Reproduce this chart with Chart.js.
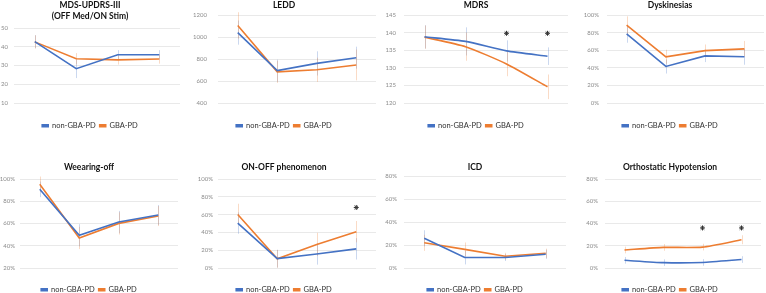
<!DOCTYPE html>
<html lang="en">
<head>
<meta charset="UTF-8">
<title>GBA-PD vs non-GBA-PD</title>
<script src="https://cdn.jsdelivr.net/npm/chart.js"></script>
<style>
    body { margin: 0; background: #fff; }
    #wrap { position: relative; width: 766px; height: 293px; overflow: hidden; background: #fff; }
    #wrap canvas { position: absolute; }
</style>
</head>
<body>
<div id="wrap"></div>
<script>
// data
const timepoints = ['T0', 'T1', 'T3', 'T5'];

const updrsNon = [42.7, 28.3, 35.7, 35.7];
const updrsGba = [42.6, 33.6, 33.0, 33.5];
const updrsNonErr = [3.5, 5, 2.5, 2.5];
const updrsGbaErr = [3.5, 3, 2.5, 2.5];

const leddNon = [1040, 694, 760, 812];
const leddGba = [1105, 683, 702, 746];
const leddNonErr = [110, 100, 110, 100];
const leddGbaErr = [120, 100, 110, 140];

const mdrsNon = [138.8, 137.5, 134.8, 133.3];
const mdrsGba = [138.7, 136.0, 131.1, 124.6];
const mdrsNonErr = [3.3, 4, 3, 2.5];
const mdrsGbaErr = [3.3, 4, 3.5, 3.5];
const mdrsStars = [null, null, 139.8, 139.8];

const dyskNon = [78.5, 41.5, 53.5, 52.5];
const dyskGba = [88.5, 52.5, 59.5, 61.5];
const dyskNonErr = [10, 8, 7, 9];
const dyskGbaErr = [10, 8, 7, 9];

const wearNon = [90.7, 49.4, 61.3, 67.6];
const wearGba = [95.2, 47.0, 60.1, 66.7];
const wearNonErr = [7, 10, 10, 9];
const wearGbaErr = [7, 10, 10, 9];

const onoffNon = [50.5, 10.5, 15.8, 21.5];
const onoffGba = [60.2, 10.3, 26.5, 40.8];
const onoffNonErr = [12, 10, 12, 12];
const onoffGbaErr = [12, 10, 13, 12];
const onoffStars = [null, null, null, 68];

const icdNon = [25.8, 9.1, 9.1, 11.9];
const icdGba = [21.9, 16.2, 10.2, 12.8];
const icdNonErr = [7, 6, 3, 4];
const icdGbaErr = [7, 6, 3, 4];

const ohNon = [6.9, 4.8, 5.0, 7.6];
const ohGba = [16.2, 18.5, 18.8, 25.4];
const ohNonErr = [3, 3, 3, 3];
const ohGbaErr = [3, 3, 3, 4];
const ohStars = [null, null, 36, 36];

const BLUE = '#4472C4';
const ORANGE = '#ED7D31';
const FONT = 'Lato, "Open Sans", sans-serif';

// vertical error bars drawn from each dataset's "errors" list
const errorBars = {
    id: 'errorBars',
    beforeDatasetsDraw(chart) {
        const ctx = chart.ctx;
        const y = chart.scales.y;
        chart.data.datasets.forEach((ds, i) => {
            if (!ds.errors) return;
            const meta = chart.getDatasetMeta(i);
            ctx.save();
            ctx.strokeStyle = ds.errorColor;
            ctx.lineWidth = 1;
            meta.data.forEach((pt, j) => {
                const v = ds.data[j], e = ds.errors[j];
                const x = Math.round(pt.x) + 0.5;
                ctx.beginPath();
                ctx.moveTo(x, y.getPixelForValue(v + e));
                ctx.lineTo(x, y.getPixelForValue(v - e));
                ctx.stroke();
            });
            ctx.restore();
        });
    }
};

const panels = [
    { title: ['MDS-UPDRS-III', '(OFF Med/ON Stim)'], non: updrsNon, gba: updrsGba, nonErr: updrsNonErr, gbaErr: updrsGbaErr,
      min: 10, max: 50, step: 10, pct: false,
      box: { left: 0, top: 0, w: 192, h: 146, plotL: 14, plotR: 180, plotT: 28, plotB: 103, tickPad: 6 } },
    { title: 'LEDD', non: leddNon, gba: leddGba, nonErr: leddNonErr, gbaErr: leddGbaErr,
      min: 400, max: 1200, step: 200, pct: false,
      box: { left: 192, top: 0, w: 192, h: 146, plotL: 218, plotR: 376, plotT: 15, plotB: 103, tickPad: 11 } },
    { title: 'MDRS', non: mdrsNon, gba: mdrsGba, nonErr: mdrsNonErr, gbaErr: mdrsGbaErr, stars: mdrsStars, tension: 0.2,
      min: 120, max: 145, step: 5, pct: false,
      box: { left: 384, top: 0, w: 192, h: 146, plotL: 404, plotR: 568, plotT: 15, plotB: 103, tickPad: 8 } },
    { title: 'Dyskinesias', non: dyskNon, gba: dyskGba, nonErr: dyskNonErr, gbaErr: dyskGbaErr,
      min: 0, max: 100, step: 20, pct: true,
      box: { left: 576, top: 0, w: 190, h: 146, plotL: 607, plotR: 764, plotT: 15, plotB: 103, tickPad: 8 } },
    { title: 'Weearing-off', non: wearNon, gba: wearGba, nonErr: wearNonErr, gbaErr: wearGbaErr,
      min: 20, max: 100, step: 20, pct: true,
      box: { left: 0, top: 146, w: 192, h: 162, plotL: 20, plotR: 178, plotT: 179, plotB: 268, tickPad: 5 } },
    { title: 'ON-OFF phenomenon', non: onoffNon, gba: onoffGba, nonErr: onoffNonErr, gbaErr: onoffGbaErr, stars: onoffStars,
      min: 0, max: 100, step: 20, pct: true,
      box: { left: 192, top: 146, w: 192, h: 162, plotL: 218, plotR: 376, plotT: 179, plotB: 268, tickPad: 5 } },
    { title: 'ICD', non: icdNon, gba: icdGba, nonErr: icdNonErr, gbaErr: icdGbaErr,
      min: 0, max: 80, step: 20, pct: true,
      box: { left: 384, top: 146, w: 192, h: 162, plotL: 404, plotR: 566, plotT: 176, plotB: 268, tickPad: 7 } },
    { title: 'Orthostatic Hypotension', non: ohNon, gba: ohGba, nonErr: ohNonErr, gbaErr: ohGbaErr, stars: ohStars, tension: 0.2,
      min: 0, max: 80, step: 20, pct: true,
      box: { left: 576, top: 146, w: 190, h: 162, plotL: 605, plotR: 764, plotT: 179, plotB: 268, tickPad: 7 } }
];

const wrap = document.getElementById('wrap');

panels.forEach(p => {
    const b = p.box;
    const canvas = document.createElement('canvas');
    canvas.width = b.w;
    canvas.height = b.h;
    canvas.style.left = b.left + 'px';
    canvas.style.top = b.top + 'px';
    wrap.appendChild(canvas);

    const lines = Array.isArray(p.title) ? p.title.length : 1;
    const titleSize = 8.5;
    const titleLine = titleSize * 1.3;
    const titleTop = b.top === 0 ? 0 : 16;
    const titleBottom = (b.plotT - b.top) - titleTop - lines * titleLine;
    const xAxisH = b.top === 0 ? 15 : 14;
    const legendSize = 7.5;
    const legendH = legendSize + 4 + 10;
    const padBottom = b.h - (b.plotB - b.top) - xAxisH - legendH;

    const datasets = [
        { label: 'non-GBA-PD', data: p.non, errors: p.nonErr, errorColor: 'rgba(68,114,196,0.28)',
          borderColor: BLUE, backgroundColor: BLUE, borderWidth: 1.6, pointRadius: 0, tension: p.tension || 0 },
        { label: 'GBA-PD', data: p.gba, errors: p.gbaErr, errorColor: 'rgba(237,125,49,0.28)',
          borderColor: ORANGE, backgroundColor: ORANGE, borderWidth: 1.6, pointRadius: 0, tension: p.tension || 0 }
    ];
    if (p.stars) {
        datasets.push({ label: '*', data: p.stars, showLine: false, pointStyle: 'star',
            pointRadius: 2.5, borderColor: '#333', backgroundColor: '#333', borderWidth: 1 });
    }

    new Chart(canvas, {
        type: 'line',
        data: { labels: timepoints, datasets: datasets },
        options: {
            responsive: false,
            animation: false,
            events: [],
            layout: { padding: { left: 0, right: (b.left + b.w) - b.plotR, top: 0, bottom: padBottom } },
            plugins: {
                title: {
                    display: true, text: p.title, color: '#111',
                    font: { family: FONT, size: titleSize, weight: 'bold', lineHeight: 1.3 },
                    padding: { top: titleTop, bottom: titleBottom }
                },
                legend: {
                    position: 'bottom',
                    labels: {
                        filter: item => item.text !== '*',
                        boxWidth: 6, boxHeight: 2, padding: 4,
                        color: '#333', font: { family: FONT, size: legendSize }
                    }
                },
                tooltip: { enabled: false }
            },
            scales: {
                x: {
                    offset: true,
                    grid: { display: false },
                    border: { display: false },
                    ticks: { color: '#595959', font: { family: FONT, size: 8 }, padding: 5.5, maxRotation: 0 },
                    afterFit: s => { s.height = xAxisH; }
                },
                y: {
                    min: p.min, max: p.max,
                    grid: { color: '#e9e9e9', drawTicks: false },
                    border: { display: false },
                    ticks: {
                        stepSize: p.step, color: '#8c8c8c', padding: b.tickPad,
                        font: { family: FONT, size: 6 },
                        callback: v => p.pct ? v + '%' : v
                    },
                    afterFit: s => { s.width = b.plotL - b.left; }
                }
            }
        },
        plugins: [errorBars]
    });
});
</script>
</body>
</html>
